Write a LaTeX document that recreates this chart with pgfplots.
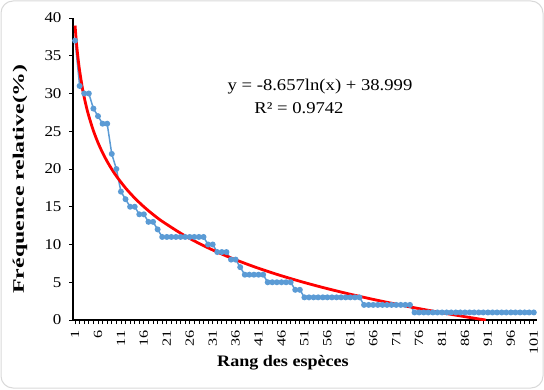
\documentclass[border=0pt]{standalone}
\usepackage{fontspec}
\setmainfont[FakeStretch=1.13]{Liberation Serif}
\newfontfamily\xtickfont[FakeStretch=1.3]{Liberation Serif}
\usepackage{pgfplots}
\pgfplotsset{compat=1.18}
\definecolor{bl}{HTML}{5B9BD5}
\definecolor{fr}{HTML}{D9D9D9}

\pgfplotstableread{
x y
1 37
2 31
3 30
4 30
5 28
6 27
7 26
8 26
9 22
10 20
11 17
12 16
13 15
14 15
15 14
16 14
17 13
18 13
19 12
20 11
21 11
22 11
23 11
24 11
25 11
26 11
27 11
28 11
29 11
30 10
31 10
32 9
33 9
34 9
35 8
36 8
37 7
38 6
39 6
40 6
41 6
42 6
43 5
44 5
45 5
46 5
47 5
48 5
49 4
50 4
51 3
52 3
53 3
54 3
55 3
56 3
57 3
58 3
59 3
60 3
61 3
62 3
63 3
64 2
65 2
66 2
67 2
68 2
69 2
70 2
71 2
72 2
73 2
74 2
75 1
76 1
77 1
78 1
79 1
80 1
81 1
82 1
83 1
84 1
85 1
86 1
87 1
88 1
89 1
90 1
91 1
92 1
93 1
94 1
95 1
96 1
97 1
98 1
99 1
100 1
101 1
}\freq

\pgfplotstableread{
x y
1 38.999
1.25 37.067
1.5 35.489
1.75 34.154
2 32.998
2.5 31.067
3 29.488
3.5 28.154
4 26.998
5 25.066
6 23.488
7 22.153
8 20.997
9 19.978
10 19.066
12 17.487
14 16.153
16 14.997
18 13.977
20 13.065
25 11.133
30 9.555
35 8.220
40 7.064
45 6.045
50 5.133
55 4.308
60 3.554
65 2.861
70 2.220
75 1.622
80 1.064
85 0.539
90 0.044
90.5 0.000
}\trend

\begin{document}
\begin{tikzpicture}
\path[use as bounding box] (0pt,0pt) rectangle (544pt,389pt);
\draw[fr, line width=1pt, rounded corners=12pt] (1pt,1pt) rectangle (543pt,388pt);
\begin{axis}[
  at={(73pt,69pt)}, anchor=south west,
  scale only axis, width=464pt, height=302pt,
  xmin=0.55, xmax=101.7, ymin=0, ymax=40,
  axis lines=left, axis line style={-, line width=1.5pt, black},
  xtick={1,6,...,101}, minor xtick={1,...,101},
  ytick={0,5,...,40},
  tick align=outside, major tick length=4pt, minor tick length=4pt,
  tick style={black, line width=0.8pt},
  /pgf/number format/assume math mode=true,
  yticklabel style={font=\fontsize{15}{15}\selectfont},
  yticklabel shift=4pt,
  xticklabel style={font=\xtickfont\fontsize{12.5}{12.5}\selectfont, rotate=90, anchor=east},
  xticklabel shift=3pt,
  clip=true,
]
\addplot[bl, line width=1.5pt, mark=*, mark size=2.2pt, mark options={fill=bl, draw=bl}] table[x=x,y=y] {\freq};
\addplot[red, line width=2.8pt, smooth] table[x=x,y=y] {\trend};
\end{axis}
\node[rotate=90, font=\bfseries\fontsize{16}{16}\selectfont] at (20pt,210pt) {\scalebox{1.32}[1]{Fréquence relative(\%)}};
\node[font=\bfseries\fontsize{16}{16}\selectfont] at (283pt,26pt) {Rang des espèces};
\node[font=\fontsize{16.5}{16.5}\selectfont] at (320pt,302pt) {y = -8.657ln(x) + 38.999};
\node[font=\fontsize{16.5}{16.5}\selectfont] at (299pt,281pt) {R² = 0.9742};
\end{tikzpicture}
\end{document}
